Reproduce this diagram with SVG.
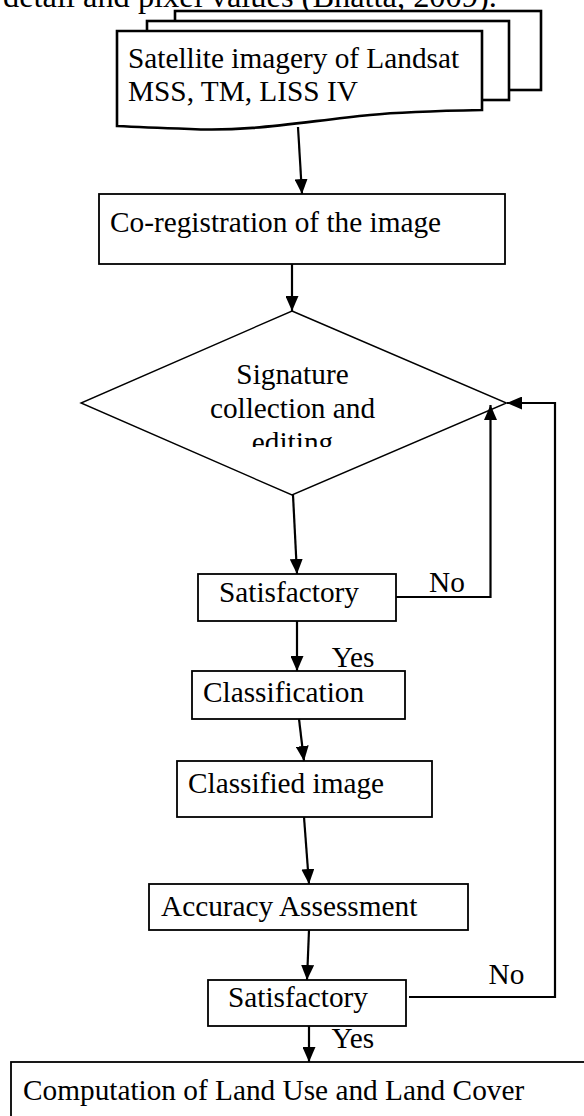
<svg xmlns="http://www.w3.org/2000/svg" width="584" height="1116" viewBox="0 0 584 1116">
<style>
text{font-family:"Liberation Serif","Times New Roman",serif;font-size:29.3px;fill:#000}
.box{fill:#fff;stroke:#000;stroke-width:1.8}
.stack{fill:#fff;stroke:#000;stroke-width:2.6}
.dia{fill:#fff;stroke:#000;stroke-width:1.4}
.con{fill:none;stroke:#000;stroke-width:2.2}
</style>
<defs>
<marker id="ah" markerWidth="15" markerHeight="13" refX="15" refY="6.5" orient="auto" markerUnits="userSpaceOnUse">
<path d="M0,0 L15,6.5 L0,13 z" fill="#000"/>
</marker>
<clipPath id="clipDia"><rect x="150" y="340" width="290" height="107"/></clipPath>
<clipPath id="clipYes"><rect x="320" y="630" width="100" height="39"/></clipPath>
</defs>
<text x="3" y="7" style="font-size:32.4px">detail and pixel values (Bhatta, 2009).</text>
<g id="n-satellite">
<rect class="stack" x="175" y="11" width="366" height="79"/>
<rect class="stack" x="147" y="21" width="362" height="79"/>
<path class="stack" d="M117,31 H482 V110 C430,111 400,112 370,115 C300,122 250,132 190,129 C160,128 135,127 117,126 Z"/>
<text x="128" y="67.7">Satellite imagery of Landsat</text>
<text x="128" y="101">MSS, TM, LISS IV</text>
</g>
<g id="n-coreg">
<rect class="box" x="99" y="194" width="406" height="70"/>
<text x="110" y="231.7">Co-registration of the image</text>
</g>
<g id="n-signature">
<path class="dia" d="M292,311 L506.5,403 L292,495 L81,403 Z"/>
<g clip-path="url(#clipDia)" text-anchor="middle">
<text x="292.5" y="384">Signature</text>
<text x="292.5" y="418">collection and</text>
<text x="292.5" y="452">editing</text>
</g>
</g>
<g id="n-sat1">
<rect class="box" x="198" y="574" width="198" height="47"/>
<text x="219" y="601.7">Satisfactory</text>
</g>
<g id="n-class">
<rect class="box" x="192" y="671" width="213" height="48"/>
<text x="203" y="701.7">Classification</text>
</g>
<g id="n-classified">
<rect class="box" x="177" y="761" width="255" height="56"/>
<text x="188" y="792.7">Classified image</text>
</g>
<g id="n-accuracy">
<rect class="box" x="149" y="884" width="319" height="46"/>
<text x="161" y="915.7">Accuracy Assessment</text>
</g>
<g id="n-sat2">
<rect class="box" x="208" y="980" width="198" height="46"/>
<text x="228" y="1007">Satisfactory</text>
</g>
<g id="n-computation">
<rect class="box" x="11" y="1062" width="600" height="100"/>
<text x="23" y="1100">Computation of Land Use and Land Cover</text>
</g>
<g id="connectors">
<line class="con" x1="298" y1="127" x2="302" y2="194" marker-end="url(#ah)"/>
<line class="con" x1="292" y1="264" x2="292" y2="311" marker-end="url(#ah)"/>
<line class="con" x1="293" y1="495" x2="297" y2="574" marker-end="url(#ah)"/>
<line class="con" x1="297" y1="621" x2="297" y2="671" marker-end="url(#ah)"/>
<line class="con" x1="299" y1="719" x2="304" y2="761" marker-end="url(#ah)"/>
<line class="con" x1="304" y1="817" x2="309" y2="884" marker-end="url(#ah)"/>
<line class="con" x1="309" y1="930" x2="307" y2="980" marker-end="url(#ah)"/>
<line class="con" x1="309" y1="1026" x2="309" y2="1062" marker-end="url(#ah)"/>
<polyline class="con" points="396,597 490.5,597 490.5,405" marker-end="url(#ah)"/>
<polyline class="con" points="409,997 555,997 555,403 507,403" marker-end="url(#ah)"/>
<text x="429" y="591.7">No</text>
<text x="331.7" y="666.7" clip-path="url(#clipYes)">Yes</text>
<text x="488.5" y="984">No</text>
<text x="331.5" y="1048">Yes</text>
</g>
</svg>
